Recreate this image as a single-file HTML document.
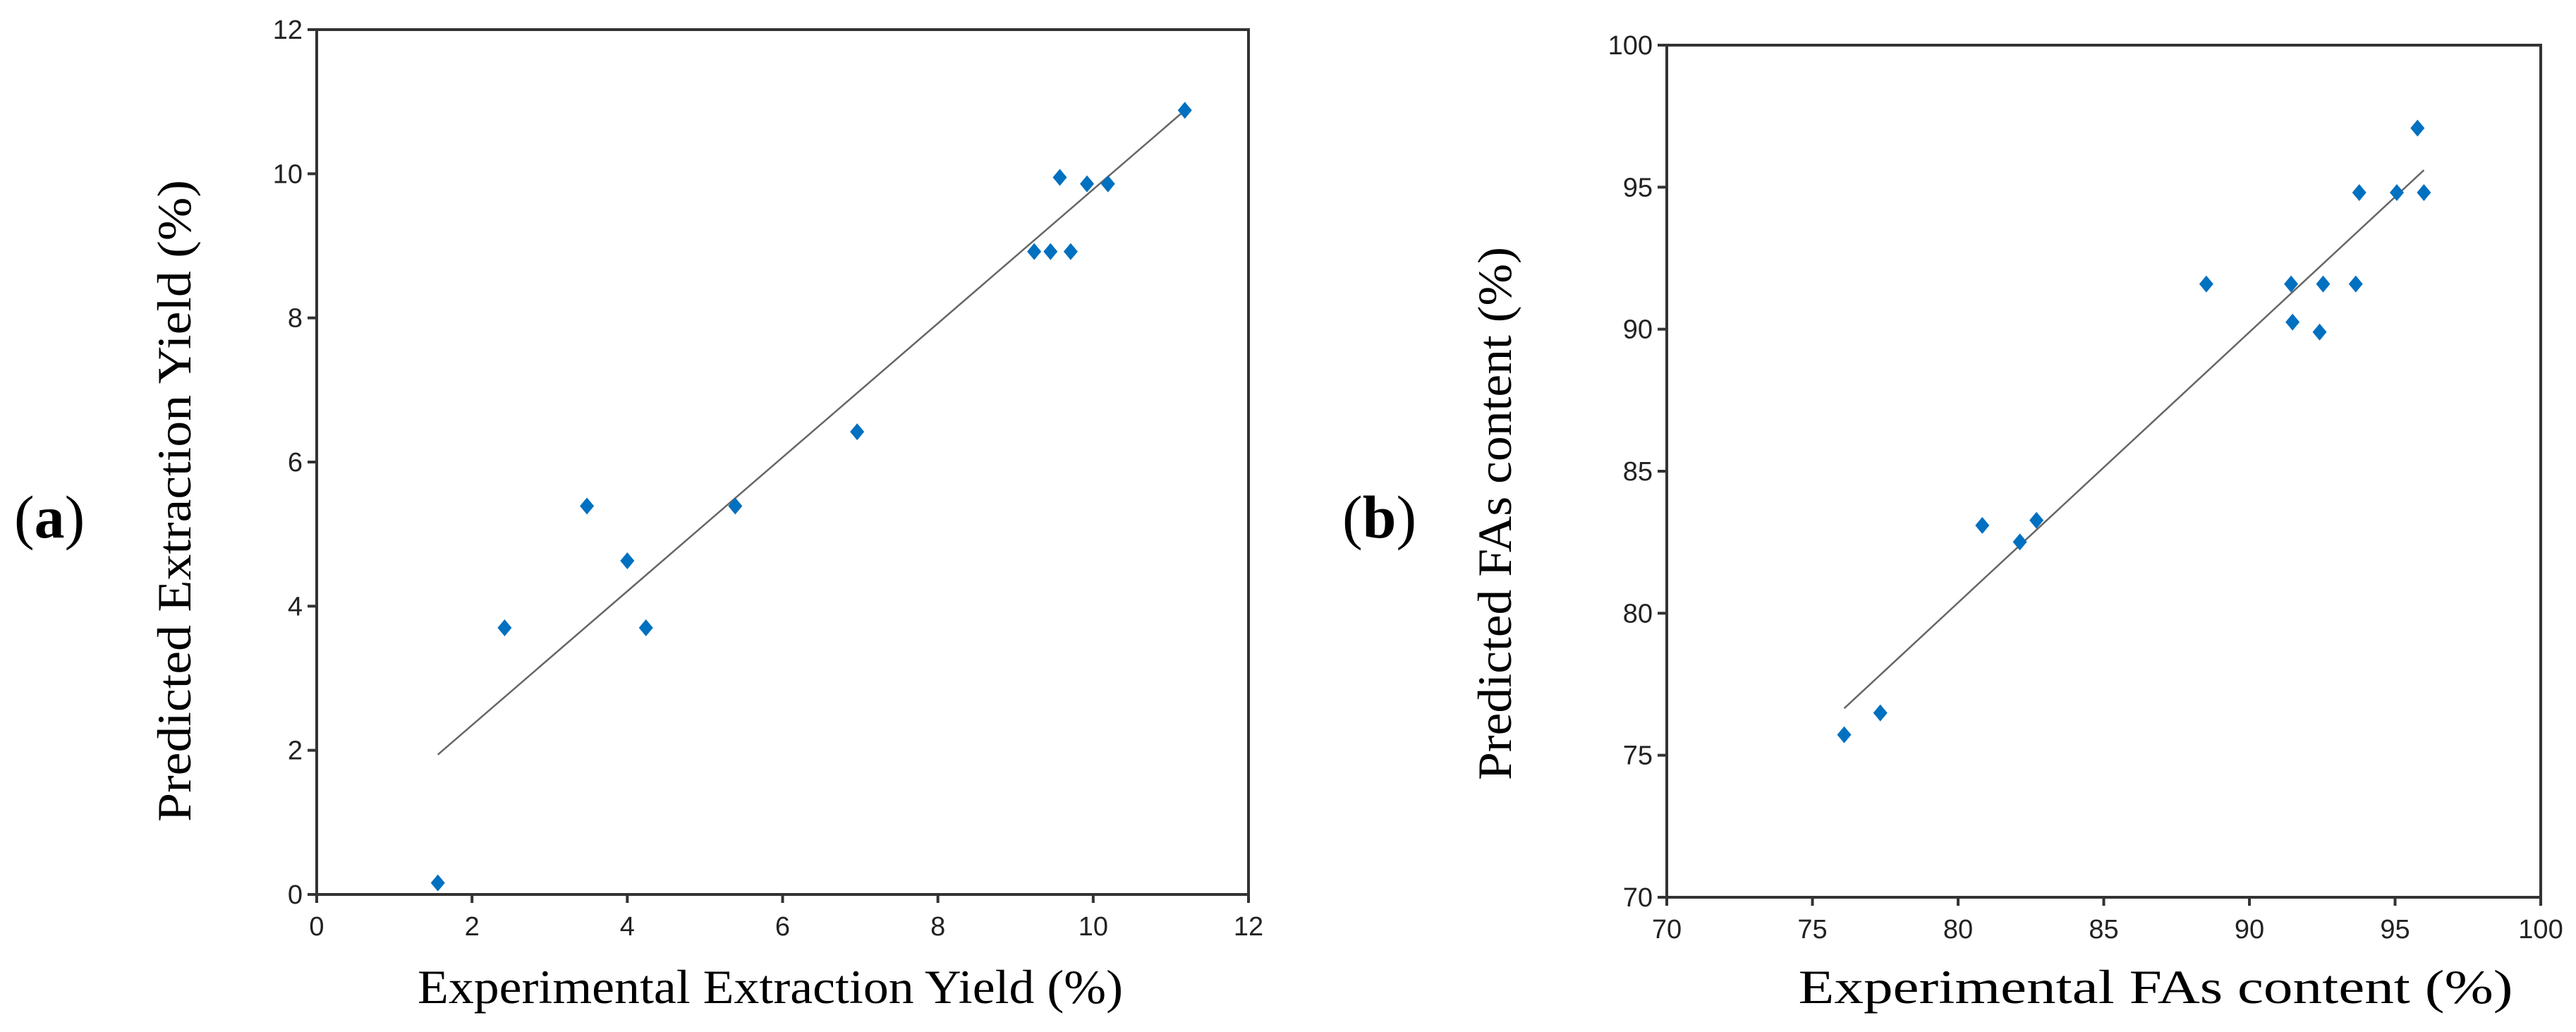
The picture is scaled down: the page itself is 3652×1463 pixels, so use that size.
<!DOCTYPE html>
<html><head><meta charset="utf-8"><style>
html,body{margin:0;padding:0;background:#fff;}
svg{display:block;}
.tick{font-family:"Liberation Sans",sans-serif;font-size:38px;fill:#222;}
.title{font-family:"Liberation Serif",serif;font-size:68px;fill:#000;}
</style></head><body>
<svg id="chart" width="3652" height="1463" viewBox="0 0 3652 1463">
<text x="20" y="762" font-family="Liberation Serif,serif" font-size="86">(<tspan font-weight="bold">a</tspan>)</text>
<text x="1903" y="762" font-family="Liberation Serif,serif" font-size="86">(<tspan font-weight="bold">b</tspan>)</text>
</svg>
<script>
// Panel A data
const aExp = [1.56, 2.42, 3.48, 4.00, 4.24, 5.39, 6.96, 9.24, 9.45, 9.57, 9.71, 9.92, 10.19, 11.18];
const aPred = [0.16, 3.70, 5.39, 4.63, 3.70, 5.39, 6.42, 8.92, 8.92, 9.95, 8.92, 9.86, 9.86, 10.88];
const aFitX = [1.56, 11.18];
const aFitY = [1.94, 10.88];
const aTicks = [0, 2, 4, 6, 8, 10, 12];
// Panel B data
const bExp = [76.09, 77.33, 80.83, 82.12, 82.69, 88.52, 91.43, 91.48, 92.41, 92.53, 93.65, 93.77, 95.06, 95.77, 95.99];
const bPred = [75.72, 76.49, 83.09, 82.51, 83.27, 91.59, 91.59, 90.25, 89.90, 91.59, 91.59, 94.81, 94.81, 97.08, 94.81];
const bFitX = [76.09, 95.99];
const bFitY = [76.65, 95.60];
const bTicks = [70, 75, 80, 85, 90, 95, 100];

const NS = "http://www.w3.org/2000/svg";
const svg = document.getElementById('chart');
function mk(tag, attrs, parent){
  const e = document.createElementNS(NS, tag);
  for (const k in attrs) e.setAttribute(k, attrs[k]);
  (parent||svg).appendChild(e); return e;
}
function panel(id, box, dom, ticks, xs, ys, fx, fy, xTitle, yTitle, xtPos, ytPos){
  const g = mk('g', {});
  
  
  const X = v => box.l + (v - dom[0]) / (dom[1] - dom[0]) * (box.r - box.l);
  const Y = v => box.b - (v - dom[0]) / (dom[1] - dom[0]) * (box.b - box.t);
  const frame = mk('rect', {x:box.l, y:box.t, width:box.r-box.l, height:box.b-box.t, fill:'none', stroke:'#333', 'stroke-width':4}, g);
  
  
  ticks.forEach(t => {
    const xt = mk('line', {x1:X(t), x2:X(t), y1:box.b, y2:box.b+12, stroke:'#333', 'stroke-width':4}, g);
    
    
    const yt = mk('line', {x1:box.l-13, x2:box.l, y1:Y(t), y2:Y(t), stroke:'#333', 'stroke-width':4}, g);
    
    
    const xl = mk('text', {x:X(t), y:box.b+58, 'text-anchor':'middle', class:'tick'}, g);
    xl.textContent = t;
    
    
    const yl = mk('text', {x:box.l-20, y:Y(t)+13, 'text-anchor':'end', class:'tick'}, g);
    yl.textContent = t;
    
    
  });
  const fit = mk('line', {x1:X(fx[0]), y1:Y(fy[0]), x2:X(fx[1]), y2:Y(fy[1]), stroke:'#666', 'stroke-width':2.5}, g);
  
  
  xs.forEach((v, i) => {
    const cx = X(v), cy = Y(ys[i]);
    const p = mk('polygon', {points:`${cx},${cy-12} ${cx+10},${cy} ${cx},${cy+12} ${cx-10},${cy}`, fill:'#0070C0'}, g);
    
    
  });
  const xtl = mk('text', {x:xtPos[0], y:xtPos[1], 'text-anchor':'middle', class:'title', textLength:xtPos[2], lengthAdjust:'spacingAndGlyphs'}, g);
  xtl.textContent = xTitle;
  
  
  const ytl = mk('text', {x:0, y:0, 'text-anchor':'middle', class:'title', textLength:ytPos[2], lengthAdjust:'spacingAndGlyphs', transform:`translate(${ytPos[0]},${ytPos[1]}) rotate(-90)`}, g);
  ytl.textContent = yTitle;
  
  
}
panel('panel-a', {l:449, r:1770, t:42, b:1268}, [0,12], aTicks, aExp, aPred, aFitX, aFitY,
  'Experimental Extraction Yield (%)', 'Predicted Extraction Yield (%)', [1092, 1422, 1000], [270, 710, 910]);
panel('panel-b', {l:2363, r:3602, t:64, b:1272}, [70,100], bTicks, bExp, bPred, bFitX, bFitY,
  'Experimental FAs content (%)', 'Predicted FAs content (%)', [3056, 1422, 1013], [2142, 728, 756]);
</script>
</body></html>
